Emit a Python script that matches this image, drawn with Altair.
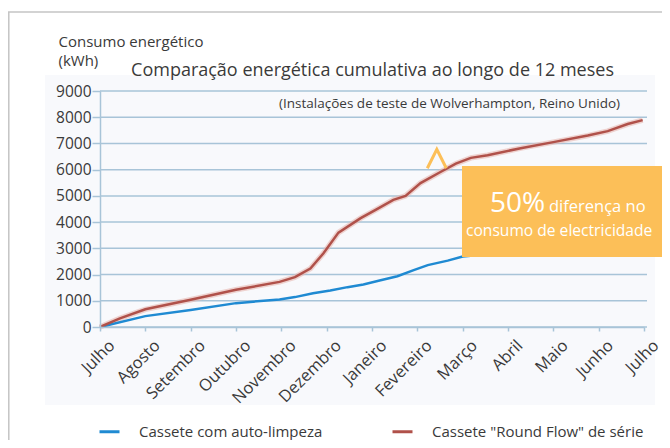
import altair as alt
import pandas as pd

# ---------------- data ----------------
months = ["Julho", "Agosto", "Setembro", "Outubro", "Novembro", "Dezembro",
          "Janeiro", "Fevereiro", "Março", "Abril", "Maio", "Junho", "Julho"]
series_names = ["Cassete com auto-limpeza", 'Cassete "Round Flow" de série']
series_colors = ["#1f8ad2", "#b0514a"]

# Round Flow (standard) cassette - month index vs cumulative kWh
rf_month = [0, 0.44, 1.0, 2.0, 3.0, 3.96, 4.3, 4.64, 4.93, 5.26, 5.75, 6.08, 6.47,
            6.74, 7.07, 7.51, 7.85, 8.18, 8.55, 9.28, 10.0, 10.76, 11.2, 11.64, 11.97]
rf_kwh = [0, 330, 675, 1040, 1420, 1720, 1900, 2230, 2810, 3600, 4150, 4470, 4850,
          5000, 5490, 5910, 6230, 6450, 6550, 6820, 7050, 7300, 7470, 7740, 7890]

# Self-cleaning cassette
sc_month = [0, 1.0, 2.0, 3.0, 3.96, 4.3, 4.7, 5.08, 5.46, 5.81, 6.19, 6.56, 6.92,
            7.23, 7.67, 8.0, 8.3]
sc_kwh = [0, 415, 650, 910, 1050, 1140, 1285, 1390, 1520, 1620, 1780, 1935, 2170,
          2360, 2530, 2690, 2740]

y_ticks = list(range(0, 9001, 1000))
title_text = "Comparação energética cumulativa ao longo de 12 meses"
subtitle_text = "(Instalações de teste de Wolverhampton, Reino Unido)"
y_title = ["Consumo energético", "(kWh)"]
box_big = "50%"
box_line1 = "diferença no"
box_line2 = "consumo de electricidade"
marker_month = [7.43]
marker_kwh = [6415]

# ---------------- styling ----------------
FONT = "Open Sans"
TXT = "#3a3a3a"
GRID = "#a8c4d8"
ORANGE = "#fcbf58"
W, H = 544, 236

df = pd.DataFrame({
    "mes": sc_month + rf_month,
    "kwh": sc_kwh + rf_kwh,
    "serie": [series_names[0]] * len(sc_month) + [series_names[1]] * len(rf_month),
})
df_rf = pd.DataFrame({"mes": rf_month, "kwh": rf_kwh})
df_grid = pd.DataFrame({"kwh": y_ticks})
one = pd.DataFrame({"k": [0]})

label_expr = "[" + ",".join("'" + m + "'" for m in months) + "][datum.value]"

x_axis = alt.Axis(
    values=list(range(13)), labelExpr=label_expr, labelAngle=-45,
    labelAlign="right", labelBaseline="top", labelFontSize=16.5, labelFont=FONT,
    labelColor=TXT, labelPadding=6, labelOffset=6, grid=False,
    domainColor=GRID, domainWidth=1.5, tickColor=GRID, tickSize=4, tickWidth=1.5,
    title=None, labelOverlap=False, zindex=1,
)
y_axis = alt.Axis(
    values=y_ticks, format="d", grid=False, labelOverlap=False,
    domainColor=GRID, domainWidth=1.5, tickColor=GRID, tickSize=8, tickWidth=1.5,
    labelFontSize=15.5, labelFont=FONT, labelColor=TXT, labelPadding=1,
    title=y_title, titleAngle=0, titleX=-42, titleY=-45, titleAlign="left",
    titleBaseline="alphabetic", titleFontSize=15, titleFont=FONT,
    titleFontWeight="normal", titleColor=TXT, titleLineHeight=19, zindex=1,
)
x_scale = alt.Scale(domain=[0, 12], nice=False, zero=False)
y_scale = alt.Scale(domain=[0, 9000], nice=False)

x_enc = alt.X("mes:Q", scale=x_scale, axis=x_axis)
y_enc = alt.Y("kwh:Q", scale=y_scale, axis=y_axis)

panel = alt.Chart(one).mark_rect(fill="#f8f9fc").encode(
    x=alt.value(-55), x2=alt.value(555), y=alt.value(-16), y2=alt.value(314))

grid = alt.Chart(df_grid).mark_rule(color=GRID, strokeWidth=1.5).encode(
    y=y_enc, x=alt.value(0), x2=alt.value(W + 3))

halo = alt.Chart(df_rf).mark_line(color="#e7b8b1", strokeWidth=5.5, opacity=0.6).encode(
    x=x_enc, y=y_enc)

lines = alt.Chart(df).mark_line(strokeWidth=2.5).encode(
    x=x_enc, y=y_enc,
    color=alt.Color(
        "serie:N",
        scale=alt.Scale(domain=series_names, range=series_colors),
        legend=alt.Legend(
            orient="none", legendX=-2, legendY=329, direction="horizontal", title=None,
            symbolType="stroke", symbolSize=400, symbolStrokeWidth=3,
            labelFontSize=15, labelFont=FONT, labelColor=TXT, labelOffset=18,
            columnPadding=63, padding=0, labelLimit=400,
        ),
    ),
    detail="serie:N",
)

marker = alt.Chart(pd.DataFrame({"mes": marker_month, "kwh": marker_kwh})).mark_point(
    shape="M-1,1L0,-1L1,1", filled=False, stroke=ORANGE, strokeWidth=3, size=361,
    opacity=1).encode(x=x_enc, y=y_enc)

box = alt.Chart(one).mark_rect(fill=ORANGE).encode(
    x=alt.value(362), x2=alt.value(580), y=alt.value(75), y2=alt.value(166))

def txt(text, x, y, size, align="left", color=TXT):
    return alt.Chart(one).mark_text(
        text=text, align=align, baseline="alphabetic", font=FONT, fontSize=size,
        color=color).encode(x=alt.value(x), y=alt.value(y))

t_title = txt(title_text, 272.5, -15, 18, align="center")
t_sub = txt(subtitle_text, 520, 17, 13.5, align="right")
t_big = txt(box_big, 390, 121, 28, color="white")
t_l1 = txt(box_line1, 449, 121, 16.5, color="white")
t_l2 = txt(box_line2, 366, 145, 15.6, color="white")

border_left = alt.Chart(one).mark_rule(color="#c4c4c4", strokeWidth=1.5).encode(
    x=alt.value(-91.2), y=alt.value(-79), y2=alt.value(360))
border_top = alt.Chart(one).mark_rule(color="#c4c4c4", strokeWidth=1.5).encode(
    x=alt.value(-92), x2=alt.value(580), y=alt.value(-79))

chart = alt.layer(
    panel, grid, halo, lines, box, marker, t_title, t_sub, t_big, t_l1, t_l2,
    border_left, border_top,
).properties(
    width=W, height=H,
    autosize=alt.AutoSizeParams(type="none"),
    padding={"left": 92, "top": 83, "right": 18, "bottom": 113},
    background="white",
).configure_view(stroke=None)

chart.save("out.html", embed_options={"renderer": "svg", "actions": False})
